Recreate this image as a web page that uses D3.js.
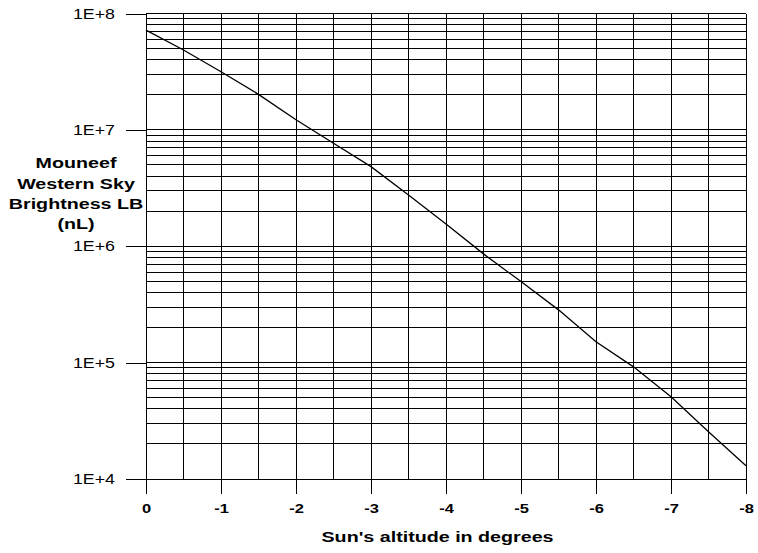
<!DOCTYPE html>
<html>
<head>
<meta charset="utf-8">
<script src="https://cdn.jsdelivr.net/npm/d3@7"></script>
<style>
  html, body { margin: 0; padding: 0; background: #fff; }
  svg { display: block; }
  text { font-family: "Liberation Sans", Arial, sans-serif; fill: #000; }
</style>
</head>
<body>
<svg id="chart" width="758" height="553"></svg>
<script>
// ---- data ----
const altitudes = [0, -0.5, -1, -1.5, -2, -2.5, -3, -3.5, -4, -4.5, -5, -5.5, -6, -6.5, -7, -7.5, -8];
const brightness = [7.2e7, 4.86e7, 3.16e7, 2.02e7, 1.22e7, 7.67e6, 4.83e6, 2.76e6, 1.55e6, 8.6e5, 4.97e5, 2.84e5, 1.51e5, 9.2e4, 5.1e4, 2.55e4, 1.3e4];
const xTickValues = [0, -1, -2, -3, -4, -5, -6, -7, -8];
const xGridValues = [0, -0.5, -1, -1.5, -2, -2.5, -3, -3.5, -4, -4.5, -5, -5.5, -6, -6.5, -7, -7.5, -8];
const yTickValues = [1e4, 1e5, 1e6, 1e7, 1e8];
const yTickLabels = ["1E+4", "1E+5", "1E+6", "1E+7", "1E+8"];
const yTitleLines = ["Mouneef", "Western Sky", "Brightness LB", "(nL)"];
const xTitle = "Sun's altitude in degrees";

// ---- layout ----
const plotLeft = 146, plotRight = 746, plotTop = 13.5, plotBottom = 479;
const SX = 1.27; // horizontal text stretch seen in reference

const svg = d3.select("#chart");
const x = d3.scaleLinear().domain([0, -8]).range([plotLeft, plotRight]);
const y = d3.scaleLog().domain([1e4, 1e8]).range([plotBottom, plotTop]);

// minor grid values
const yGridValues = [];
for (let n = 4; n < 8; n++) for (let k = 1; k <= 9; k++) yGridValues.push(k * Math.pow(10, n));
yGridValues.push(1e8);

const grid = svg.append("g").attr("stroke", "#000").attr("stroke-width", 1).attr("shape-rendering", "crispEdges");
grid.selectAll("line.h").data(yGridValues).join("line")
  .attr("class", "h")
  .attr("x1", plotLeft).attr("x2", plotRight)
  .attr("y1", d => y(d)).attr("y2", d => y(d));
grid.selectAll("line.v").data(xGridValues).join("line")
  .attr("class", "v")
  .attr("x1", d => x(d)).attr("x2", d => x(d))
  .attr("y1", plotTop).attr("y2", plotBottom);

// y axis
const yAxis = d3.axisLeft(y).tickValues(yTickValues).tickSize(20).tickPadding(11)
  .tickFormat((d, i) => yTickLabels[i]);
const gy = svg.append("g").attr("transform", `translate(${plotLeft},0)`).call(yAxis);
gy.select(".domain").remove();
gy.selectAll(".tick line").attr("stroke", "#000").attr("shape-rendering", "crispEdges");
gy.selectAll(".tick text")
  .attr("font-family", "Liberation Sans, Arial, sans-serif")
  .attr("font-size", 14)
  .attr("fill", "#000")
  .attr("dy", null)
  .attr("x", null)
  .attr("transform", "translate(-31,4.7) scale(" + SX + ",1)");

// x axis
const xAxis = d3.axisBottom(x).tickValues(xTickValues).tickSize(15).tickFormat(d => String(d));
const gx = svg.append("g").attr("transform", `translate(0,${plotBottom})`).call(xAxis);
gx.select(".domain").remove();
gx.selectAll(".tick line").attr("stroke", "#000").attr("shape-rendering", "crispEdges");
gx.selectAll(".tick text")
  .attr("font-family", "Liberation Sans, Arial, sans-serif")
  .attr("font-size", 13)
  .attr("font-weight", "bold")
  .attr("fill", "#000")
  .attr("dy", null)
  .attr("y", null)
  .attr("transform", "translate(0,34.3) scale(" + SX + ",1)");

// curve
const line = d3.line().x((d, i) => x(altitudes[i])).y(d => y(d));
svg.append("path")
  .datum(brightness)
  .attr("fill", "none")
  .attr("stroke", "#000")
  .attr("stroke-width", 1.3)
  .attr("d", line);

// y title
svg.append("g").selectAll("text").data(yTitleLines).join("text")
  .attr("text-anchor", "middle")
  .attr("font-size", 15.5)
  .attr("font-weight", "bold")
  .attr("transform", (d, i) => `translate(76,${168.3 + i * 20.2}) scale(${SX},1)`)
  .text(d => d);

// x title
svg.append("text")
  .attr("text-anchor", "middle")
  .attr("font-size", 15.5)
  .attr("font-weight", "bold")
  .attr("transform", `translate(437.5,541.7) scale(${SX},1)`)
  .text(xTitle);
</script>
</body>
</html>
